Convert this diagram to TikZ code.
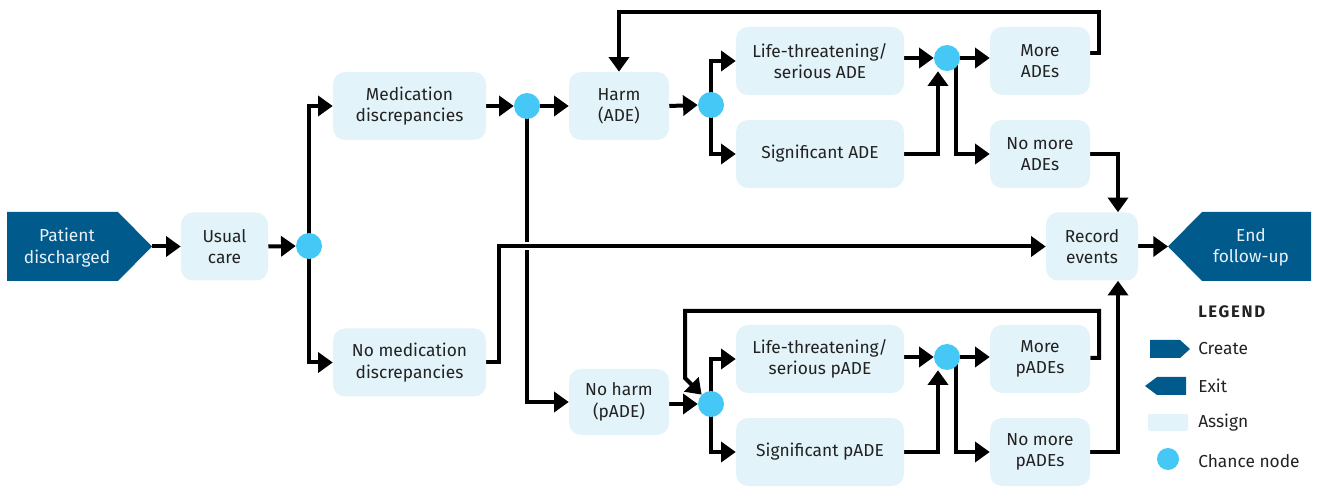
\documentclass[tikz,border=0pt]{standalone}
\usepackage{fontspec}
\setmainfont{Fira Sans}
\usetikzlibrary{arrows.meta,calc}
\definecolor{boxfill}{HTML}{E2F3F9}
\definecolor{darkblue}{HTML}{005A8C}
\definecolor{chance}{HTML}{45C8F5}
\definecolor{txt}{HTML}{222222}
\definecolor{lighttxt}{HTML}{E8F1F8}
\pgfdeclarelayer{bg}
\pgfsetlayers{bg,main}
\begin{document}
\begin{tikzpicture}[x=0.75pt,y=-0.75pt,
  box/.style={fill=boxfill, rounded corners=9pt, minimum height=51pt, align=center, text=txt, inner sep=0pt, font=\fontsize{13}{16}\selectfont},
  cnode/.style={circle, fill=chance, minimum size=19.5pt, inner sep=0pt},
  conn/.style={line width=3pt, -{Triangle[length=11pt,width=15pt]}},
  lbl/.style={align=center, text=lighttxt, inner sep=0pt, font=\fontsize{13}{16}\selectfont},
  legtxt/.style={anchor=west, text=txt, inner sep=0pt, font=\fontsize{13}{16}\selectfont}]
\useasboundingbox (0,0) rectangle (1318,488);

% create / exit shapes
\fill[darkblue] (7,212) -- (118,212) -- (152,246.5) -- (118,281) -- (7,281) -- cycle;
\node[lbl] (pd) at (67,247.5) {Patient\\discharged};
\coordinate (pdtip) at (152,246.5);
\fill[darkblue] (1311,212) -- (1202,212) -- (1168,246.5) -- (1202,281) -- (1311,281) -- cycle;
\node[lbl] (ef) at (1251,247.5) {End\\follow-up};
\coordinate (eftip) at (1168,246.5);

% boxes
\node[box, minimum width=65.25pt] (uc) at (224.5,246.5) {Usual\\care};
\node[box, minimum width=114.75pt] (med) at (409.5,106) {Medication\\discrepancies};
\node[box, minimum width=114.75pt] (nomed) at (409.5,362.5) {No medication\\discrepancies};
\node[box, minimum width=75pt] (harm) at (619,106) {Harm\\(ADE)};
\node[box, minimum width=75pt, minimum height=49.5pt] (noharm) at (619,402) {No harm\\(pADE)};
\node[box, minimum width=126pt] (lt) at (820,61) {Life-threatening/\\serious ADE};
\node[box, minimum width=126pt] (sig) at (820,154) {Significant ADE};
\node[box, minimum width=75pt] (more) at (1040,61) {More\\ADEs};
\node[box, minimum width=75pt] (nomore) at (1040,154) {No more\\ADEs};
\node[box, minimum width=69pt] (rec) at (1092,246.5) {Record\\events};
\node[box, minimum width=126pt] (ltp) at (820,359) {Life-threatening/\\serious pADE};
\node[box, minimum width=126pt] (sigp) at (820,452) {Significant pADE};
\node[box, minimum width=75pt] (morep) at (1040,359) {More\\pADEs};
\node[box, minimum width=75pt] (nomorep) at (1040,452) {No more\\pADEs};

% chance nodes
\node[cnode] (c1) at (309,246) {};
\node[cnode] (c2) at (527,106) {};
\node[cnode] (c3) at (711,105) {};
\node[cnode] (c4) at (947,58) {};
\node[cnode] (c5) at (711,404) {};
\node[cnode] (c6) at (947,357) {};

% connectors
\begin{pgfonlayer}{bg}
\draw[conn] (pdtip) -- (uc.west);
\draw[conn] (uc.east) -- (c1.west);
\draw[conn] (c1.center) |- (med.west);
\draw[conn] (c1.center) |- (nomed.west);
\draw[conn] (med.east) -- (c2.west);
\draw[conn] (c2.east) -- (harm.west);
\draw[conn] (c2.center) |- (noharm.west);
\draw[white, line width=6pt] (519,246.5) -- (535,246.5);
\draw[conn] (nomed.east) -- ++(13,0) |- (rec.west);
\draw[conn] (harm.east) -- (c3.west);
\draw[conn] (c3.center) |- (lt.west);
\draw[conn] (c3.center) |- (sig.west);
\draw[conn] (lt.east |- c4) -- (c4.west);
\draw[conn] (sig.east) -| ([xshift=-6.75pt]c4.south);
\draw[conn] (c4.east) -- (more.west |- c4);
\draw[conn] ([xshift=6.75pt]c4.center) |- (nomore.west);
\draw[conn] ($(more.east)+(0,-8)$) -- (1099,53) -- (1099,12) -| (harm.north);
\draw[conn] (nomore.east) -| ([xshift=19.5pt]rec.north);
\draw[conn] (rec.east) -- (eftip);
\draw[conn] (noharm.east |- c5) -- (c5.west);
\draw[conn] (c5.center) |- (ltp.west);
\draw[conn] (c5.center) |- (sigp.west);
\draw[conn] (ltp.east |- c6) -- (c6.west);
\draw[conn] (sigp.east) -| ([xshift=-6.75pt]c6.south);
\draw[conn] (c6.east) -- (morep.west |- c6);
\draw[conn] ([xshift=6.75pt]c6.center) |- (nomorep.west);
\draw[conn] ($(morep.east)+(0,-1)$) -- (1099,358) -- (1099,311) -- (685,311) -- (685,378) -- (c5.north west);
\draw[conn] (nomorep.east) -| ([xshift=19.5pt]rec.south);
\end{pgfonlayer}

% legend
\node[legtxt, font=\fontsize{12.5}{14}\selectfont\bfseries\addfontfeatures{LetterSpace=10}] (leg) at (1198,312) {LEGEND};
\fill[darkblue] (1150,340) -- (1180,340) -- (1190,349) -- (1180,358) -- (1150,358) -- cycle;
\node[legtxt] (lcreate) at (1198,349) {Create};
\fill[darkblue] (1186,377) -- (1157,377) -- (1145,386) -- (1157,395) -- (1186,395) -- cycle;
\node[legtxt] (lexit) at (1198,386) {Exit};
\fill[boxfill, rounded corners=1.5pt] (1148,414) rectangle (1188,431);
\node[legtxt] (lassign) at (1198,423) {Assign};
\node[cnode, minimum size=16.5pt] (lc) at (1168,459) {};
\node[legtxt] (lchance) at (1198,461) {Chance node};
\end{tikzpicture}
\end{document}
